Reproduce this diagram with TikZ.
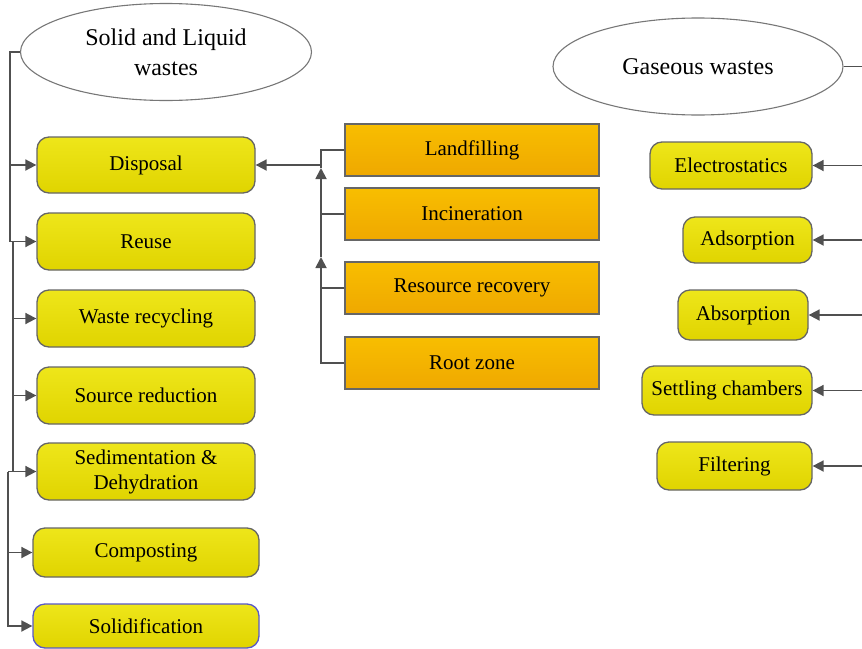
\documentclass[tikz,border=0pt]{standalone}
\usepackage{fontspec}
\setmainfont{Liberation Serif}
\usetikzlibrary{arrows.meta,shapes.geometric}
\definecolor{yelT}{HTML}{EEE61A}
\definecolor{yelB}{HTML}{E0D400}
\definecolor{oraT}{HTML}{F8BE00}
\definecolor{oraB}{HTML}{EFA800}
\definecolor{boxline}{HTML}{666666}
\definecolor{ovline}{HTML}{777777}
\definecolor{lineC}{HTML}{505050}
\definecolor{blueline}{HTML}{5858C8}
\begin{document}
\begin{tikzpicture}[x=1pt,y=-1pt,
  lbl/.style={font=\fontsize{21}{25}\selectfont, text=black, align=center, inner sep=0pt},
  ybox/.style={lbl, draw=boxline, line width=1.3pt, rounded corners=12pt, top color=yelT, bottom color=yelB},
  obox/.style={lbl, draw=boxline, line width=1.3pt, top color=oraT, bottom color=oraB, minimum width=254pt, minimum height=52pt},
  oval/.style={ellipse, draw=ovline, line width=1.1pt, fill=white, font=\fontsize{24}{30}\selectfont, align=center, inner sep=0pt},
  conn/.style={draw=lineC, line width=1.8pt},
  arr/.style={conn, -{Triangle[length=11pt,width=11pt]}},
]
\useasboundingbox (0,0) rectangle (862,648);

% ellipses
\node[oval, minimum width=291pt, minimum height=97pt] (sl) at (166,52) {Solid and Liquid\\wastes};
\node[oval, minimum width=290pt, minimum height=97pt] (gw) at (698,66.5) {Gaseous wastes};

% left column
\node[ybox, minimum width=218pt, minimum height=56pt] (disp) at (146,165) {Disposal};
\node[ybox, minimum width=218pt, minimum height=57pt] (reuse) at (146,241.5) {Reuse};
\node[ybox, minimum width=218pt, minimum height=57pt] (wr) at (146,318.5) {Waste recycling};
\node[ybox, minimum width=218pt, minimum height=57pt] (src) at (146,395.5) {Source reduction};
\node[ybox, minimum width=218pt, minimum height=57pt] (sed) at (146,471.5) {Sedimentation \&\\Dehydration};
\node[ybox, minimum width=226pt, minimum height=49pt] (comp) at (146,552.5) {Composting};
\node[ybox, draw=blueline, minimum width=226pt, minimum height=44pt] (solid) at (146,626) {Solidification};

% middle column
\node[obox] (land) at (472,150) {Landfilling};
\node[obox] (inc) at (472,214) {Incineration};
\node[obox] (rr) at (472,288) {Resource recovery};
\node[obox] (root) at (472,363) {Root zone};

% right column
\node[ybox, minimum width=162pt, minimum height=47pt] (el) at (731,165.5) {Electrostatics};
\node[ybox, minimum width=129pt, minimum height=46pt] (ads) at (747.5,240) {Adsorption};
\node[ybox, minimum width=130pt, minimum height=50pt] (abs) at (743,315) {Absorption};
\node[ybox, minimum width=170pt, minimum height=49pt] (set) at (727,390.5) {Settling chambers};
\node[ybox, minimum width=155pt, minimum height=48pt] (fil) at (734.5,466) {Filtering};

% left connectors
\coordinate (la) at (10,0);
\coordinate (lb) at (13,0);
\coordinate (lc) at (8,0);
\draw[conn] (sl.west) -| (reuse.west -| la);
\draw[arr] (disp.west -| la) -- (disp.west);
\draw[arr] (reuse.west -| la) -- (reuse.west);
\draw[conn] (reuse.west -| lb) -- (sed.west -| lb);
\draw[arr] (wr.west -| lb) -- (wr.west);
\draw[arr] (src.west -| lb) -- (src.west);
\draw[arr] (sed.west -| lc) -- (sed.west);
\draw[arr] (sed.west -| lc) |- (solid.west);
\draw[arr] (comp.west -| lc) -- (comp.west);

% middle connectors
\coordinate (mj) at (321,165);
\coordinate (ma1) at (321,168);
\coordinate (ma2) at (321,257);
\draw[arr] (mj) -- (disp.east);
\draw[conn] (land.west) -| (mj);
\draw[conn] (inc.west) -- (inc.west -| mj);
\draw[conn] (rr.west) -- (rr.west -| mj);
\draw[arr] (root.west) -| (ma2);
\draw[arr] (ma2) -- (ma1);
\draw[conn] (ma1) -- (mj);

% right connectors
\coordinate (rx) at (862,0);
\draw[conn] (gw.east) -- (gw.east -| rx);
\draw[arr] (el.east -| rx) -- (el.east);
\draw[arr] (ads.east -| rx) -- (ads.east);
\draw[arr] (abs.east -| rx) -- (abs.east);
\draw[arr] (set.east -| rx) -- (set.east);
\draw[arr] (fil.east -| rx) -- (fil.east);
\end{tikzpicture}
\end{document}
